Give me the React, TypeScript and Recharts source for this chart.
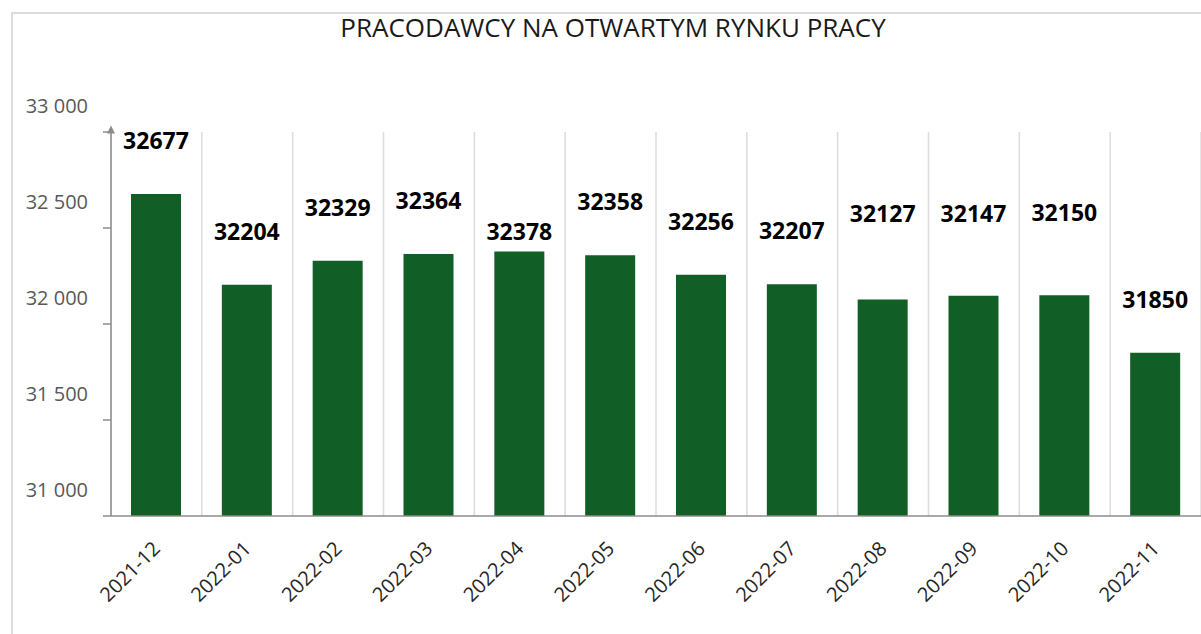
import { BarChart, Bar, XAxis, YAxis, CartesianGrid, LabelList } from 'recharts';

const months = [
  '2021-12', '2022-01', '2022-02', '2022-03', '2022-04', '2022-05',
  '2022-06', '2022-07', '2022-08', '2022-09', '2022-10', '2022-11',
];
const employers = [32677, 32204, 32329, 32364, 32378, 32358, 32256, 32207, 32127, 32147, 32150, 31850];
const yTicks = [31000, 31500, 32000, 32500, 33000];
// category boundaries for grid lines and x tick marks
const edges = months.map((_, i) => i).concat(months.length);

// how far above the bar top each value label sits (as in the original)
const labelLift = [45, 45, 45, 45, 11, 45, 45, 45, 78, 74, 74, 45];

const data = months.map((m, i) => ({ month: m, value: employers[i], pos: i + 0.5 }));

const fmt = (v: number) => v.toLocaleString('pl-PL').replace(/\s/g, ' ');

function YTick({ x, y, payload }: { x: number; y: number; payload: { value: number } }) {
  return (
    <text x={x} y={y - 19} textAnchor='end' fill='#595959' fontSize={20} fontFamily='Open Sans'>
      {fmt(payload.value)}
    </text>
  );
}

function XTick({ x, y, payload }: { x: number; y: number; payload: { value: string } }) {
  return (
    <g transform={`translate(${x + 5},${y})`}>
      <text textAnchor='end' transform='rotate(-45)' fill='#262626' fontSize={20} fontFamily='Open Sans'>
        {payload.value}
      </text>
    </g>
  );
}

function ValueLabel(props: any) {
  const { x, y, width, value, index } = props;
  return (
    <text
      x={x + width / 2}
      y={y - labelLift[index]}
      textAnchor='middle'
      fill='#000'
      fontSize={23}
      fontWeight='bold'
      fontFamily='Open Sans'
    >
      {value}
    </text>
  );
}

// vertical grid at the category boundaries
const gridAtEdges = ({ offset }: any) =>
  edges.map((e) => offset.left + (e * offset.width) / months.length);

export default function App() {
  return (
    <div style={{ position: 'absolute', left: 0, top: 0, width: 1201, height: 634, overflow: 'hidden', background: '#fff' }}>
      <div
        style={{
          position: 'absolute',
          left: 11,
          top: 12,
          width: 1200,
          height: 700,
          border: '2px solid #dcdcdc',
          boxSizing: 'border-box',
        }}
      />
      <svg width={1201} height={60} style={{ position: 'absolute', left: 0, top: 0 }}>
        <defs>
          <marker
            id='yArrow'
            viewBox='0 0 10 10'
            refX='2'
            refY='5'
            markerWidth='9'
            markerHeight='8'
            markerUnits='userSpaceOnUse'
            orient='auto-start-reverse'
          >
            <path d='M0,0 L10,5 L0,10 z' fill='#8c8c8c' />
          </marker>
        </defs>
        <text x={613} y={37} textAnchor='middle' fill='#1a1a1a' fontSize={26} fontFamily='Open Sans'>
          PRACODAWCY NA OTWARTYM RYNKU PRACY
        </text>
      </svg>
      <div style={{ position: 'absolute', left: 0, top: 0 }}>
        <BarChart width={1201} height={634} data={data} margin={{ top: 132, right: 0, left: 0, bottom: 0 }}>
          <CartesianGrid
            xAxisId='b'
            horizontal={false}
            stroke='#dcdcdc'
            strokeWidth={1.5}
            verticalCoordinatesGenerator={gridAtEdges}
          />
          <XAxis
            xAxisId='b'
            dataKey='month'
            height={117}
            axisLine={false}
            tickLine={false}
            tickSize={0}
            tickMargin={33}
            interval={0}
            tick={XTick as any}
          />
          <XAxis
            xAxisId='a'
            dataKey='pos'
            type='number'
            domain={[0, months.length]}
            ticks={edges}
            interval={0}
            tick={false}
            height={1}
            tickSize={8}
            axisLine={{ stroke: '#8c8c8c', strokeWidth: 1.5 }}
            tickLine={{ stroke: '#8c8c8c', strokeWidth: 1.5 }}
          />
          <YAxis
            width={111}
            domain={[31000, 33000]}
            ticks={yTicks}
            interval={0}
            tickSize={8}
            tickMargin={15}
            axisLine={{ stroke: '#8c8c8c', strokeWidth: 1.5, markerStart: 'url(#yArrow)' }}
            tickLine={{ stroke: '#8c8c8c', strokeWidth: 1.5 }}
            tick={YTick as any}
          />
          <Bar xAxisId='b' dataKey='value' fill='#115e27' barSize={50} isAnimationActive={false}>
            <LabelList dataKey='value' content={ValueLabel} />
          </Bar>
        </BarChart>
      </div>
    </div>
  );
}
